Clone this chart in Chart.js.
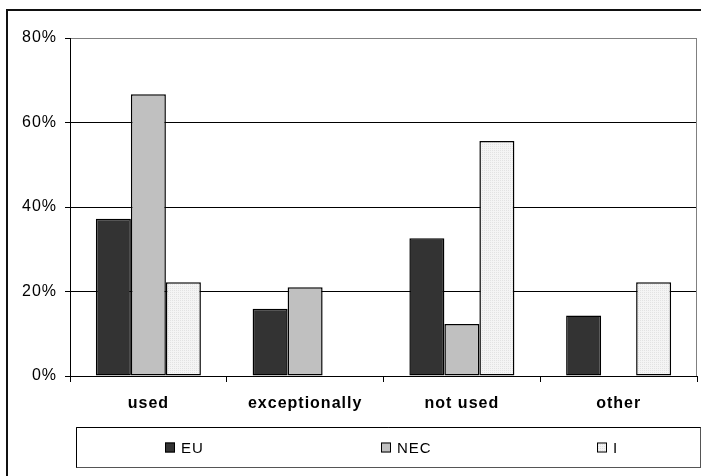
<!DOCTYPE html>
<html>
<head>
<meta charset="utf-8">
<script src="https://cdn.jsdelivr.net/npm/chart.js@4"></script>
<style>
  html, body { margin: 0; padding: 0; background: #fff; }
  #wrap { width: 701px; height: 476px; position: relative; }
</style>
</head>
<body>
<div id="wrap"><canvas id="c" width="701" height="476"></canvas></div>
<script>
// Categories and series (percent of respondents)
const categories = ['used', 'exceptionally', 'not used', 'other'];
const seriesNames = ['EU', 'NEC', 'I'];
const euValues  = [37.2, 15.9, 32.6, 14.3];
const necValues = [66.7, 21.0, 12.3, null];
const iValues   = [22.2, null, 55.6, 22.2];
const yTicks = [0, 20, 40, 60, 80];

const FONT = '"Liberation Sans", Arial, sans-serif';

// Fine dotted fill for the light series
function dottedFill() {
  const p = document.createElement('canvas');
  p.width = 2; p.height = 2;
  const g = p.getContext('2d');
  g.fillStyle = '#f4f4f4';
  g.fillRect(0, 0, 2, 2);
  g.fillStyle = '#e2e2e2';
  g.fillRect(0, 0, 1, 1);
  return g.createPattern(p, 'repeat');
}

const fills = ['#333333', '#c0c0c0', dottedFill()];

// Outer frame, plot frame and boxed legend
const framePlugin = {
  id: 'frame',
  beforeDraw(chart) {
    const ctx = chart.ctx;
    ctx.fillStyle = '#fff';
    ctx.fillRect(0, 0, chart.width, chart.height);
    // slightly spaced lettering for all chart text
    if ('letterSpacing' in ctx) ctx.letterSpacing = '1px';
  },
  afterDraw(chart) {
    const ctx = chart.ctx;
    const a = chart.chartArea;
    ctx.save();
    // plot area right edge
    ctx.strokeStyle = '#808080';
    ctx.lineWidth = 1;
    ctx.beginPath();
    ctx.moveTo(Math.round(a.right) - 0.5, a.top);
    ctx.lineTo(Math.round(a.right) - 0.5, a.bottom);
    ctx.stroke();

    // outer chart border (runs past the canvas on right and bottom)
    ctx.strokeStyle = '#111';
    ctx.lineWidth = 2;
    ctx.strokeRect(7, 10, chart.width + 20, chart.height + 20);

    // legend box
    const lx = 76.5, ly = 427.5, lw = 624, lh = 40;
    ctx.lineWidth = 1;
    ctx.strokeStyle = '#555';
    ctx.strokeRect(lx, ly, lw, lh);
    ctx.strokeStyle = '#000';
    ctx.beginPath();
    ctx.moveTo(lx, ly + lh); ctx.lineTo(lx, ly); ctx.lineTo(lx + lw, ly);
    ctx.stroke();

    ctx.font = '15px ' + FONT;
    ctx.textBaseline = 'middle';
    ctx.textAlign = 'left';
    chart.data.datasets.forEach((ds, i) => {
      const x = 165 + i * 216;
      const y = ly + lh / 2;
      ctx.fillStyle = ds.backgroundColor;
      ctx.fillRect(x, y - 5, 10, 10);
      ctx.strokeStyle = '#000';
      ctx.strokeRect(x + 0.5, y - 4.5, 9, 9);
      ctx.fillStyle = '#000';
      ctx.fillText(ds.label, x + 16, y + 1);
    });
    ctx.restore();
  }
};

const seriesValues = [euValues, necValues, iValues];

new Chart(document.getElementById('c'), {
  type: 'bar',
  data: {
    labels: categories,
    datasets: seriesNames.map((name, i) => ({
      label: name,
      data: seriesValues[i],
      backgroundColor: fills[i],
      borderColor: '#000',
      borderWidth: 1.5,
      borderSkipped: false,
      categoryPercentage: 0.67,
      barPercentage: 1.0
    }))
  },
  options: {
    responsive: false,
    animation: false,
    devicePixelRatio: 1,
    layout: { padding: { left: 0, top: 38, right: 4, bottom: 0 } },
    plugins: {
      legend: { display: false },
      tooltip: { enabled: false }
    },
    scales: {
      x: {
        offset: true,
        grid: {
          offset: true,
          drawOnChartArea: false,
          drawTicks: true,
          tickLength: 6,
          color: '#000'
        },
        border: { color: '#000', width: 1 },
        ticks: {
          padding: 12,
          color: '#000',
          font: { family: FONT, size: 16, weight: 'bold' },
          maxRotation: 0
        },
        afterFit(scale) { scale.height = 100; }
      },
      y: {
        min: 0,
        max: 80,
        afterBuildTicks(scale) {
          scale.ticks = yTicks.map(v => ({ value: v }));
        },
        grid: {
          color: ctx => (ctx.tick && ctx.tick.value === 80) ? '#808080' : '#000',
          tickColor: '#000',
          tickLength: 5,
          drawTicks: true,
          lineWidth: 1
        },
        border: { color: '#000', width: 1 },
        ticks: {
          padding: 8,
          color: '#000',
          font: { family: FONT, size: 16 },
          callback: v => v + '%'
        },
        afterFit(scale) { scale.width = 70; }
      }
    }
  },
  plugins: [framePlugin]
});
</script>
</body>
</html>
